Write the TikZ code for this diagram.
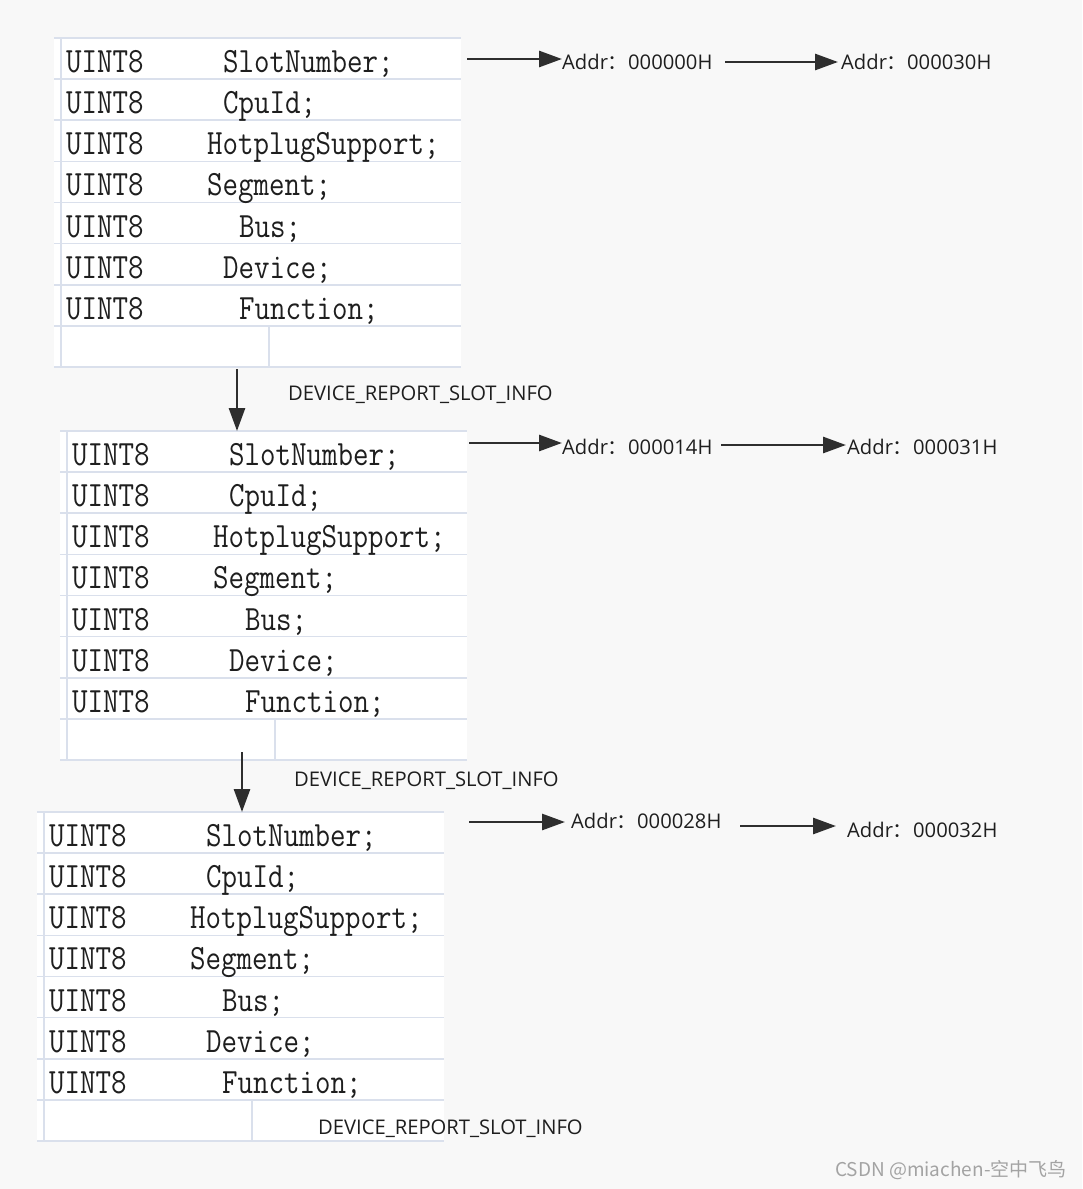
\documentclass[tikz,border=0pt]{standalone}
\usepackage{fontspec}
\usepackage{graphicx}
\usetikzlibrary{arrows.meta}
\setmainfont{Open Sans}
\newfontfamily\cjk{Noto Sans CJK SC}
\definecolor{bg}{HTML}{F8F8F8}
\definecolor{gridc}{HTML}{DAE0EC}
\definecolor{ink}{HTML}{1E1E1E}
\definecolor{arrc}{HTML}{2E2E2E}
\definecolor{wm}{HTML}{A3A3A3}
\tikzset{
  gridline/.style={draw=gridc, line width=1.6pt},
  cell/.style={anchor=base west, inner sep=0pt, text=ink, font=\fontsize{30.1}{30}\selectfont\ttfamily},
  lbl/.style={anchor=west, inner sep=0pt, text=ink, font=\fontsize{20.2}{22}\selectfont},
  arr/.style={draw=arrc, line width=2.8pt, -{Triangle[length=23pt,width=16pt]}},
}
\newcommand{\cellt}[1]{\scalebox{1}[1.18]{#1}}
\newcommand{\slottable}[3]{%
\begin{scope}[shift={(#2,#3)}]
  \fill[white] (54,37) rectangle (461,368);
  \foreach \k in {0,...,8} \draw[gridline] (54,{38+41.125*\k}) -- (461,{38+41.125*\k});
  \draw[gridline] (61,37) -- (61,368);
  \draw[gridline] (269,{38+41.125*7}) -- (269,368);
  \foreach \k/\nm/\xx in {1/SlotNumber;/223,2/CpuId;/223,3/HotplugSupport;/207,4/Segment;/207,5/Bus;/239,6/Device;/223,7/Function;/239}{
    \node[cell] (#1a\k) at (66,{72.5+41.125*(\k-1)}) {\cellt{UINT8}};
    \node[cell] (#1b\k) at (\xx,{72.5+41.125*(\k-1)}) {\cellt{\nm}};
  }
\end{scope}}
\begin{document}
\begin{tikzpicture}[x=1pt,y=-1pt]
\useasboundingbox (0,0) rectangle (1082,1189);
\fill[bg] (0,0) rectangle (1082,1189);

\slottable{A}{0}{0}
\slottable{B}{6}{393}
\slottable{C}{-17}{774}

% labels
\node[lbl] (L1) at (288,395) {DEVICE\_REPORT\_SLOT\_INFO};
\node[lbl] (L2) at (294,781) {DEVICE\_REPORT\_SLOT\_INFO};
\node[lbl] (L3) at (318,1129) {DEVICE\_REPORT\_SLOT\_INFO};

% address texts
\node[lbl] (A1) at (562,62) {Addr{\cjk ：}000000H};
\node[lbl] (A2) at (841,62) {Addr{\cjk ：}000030H};
\node[lbl] (B1) at (562,447) {Addr{\cjk ：}000014H};
\node[lbl] (B2) at (847,447) {Addr{\cjk ：}000031H};
\node[lbl] (C1) at (571,821) {Addr{\cjk ：}000028H};
\node[lbl] (C2) at (847,830) {Addr{\cjk ：}000032H};

% arrow start points
\coordinate (sA1) at (467,59);
\coordinate (sA2) at (725,62);
\coordinate (sB1) at (469,443);
\coordinate (sB2) at (721,445);
\coordinate (sC1) at (469,822);
\coordinate (sC2) at (740,826);
\coordinate (v1s) at (237,369);
\coordinate (v1e) at (237,431);
\coordinate (v2s) at (242,752);
\coordinate (v2e) at (242,812);

\draw[arr] (sA1) -- (sA1 -| A1.west);
\draw[arr] (sA2) -- ([xshift=-3pt]sA2 -| A2.west);
\draw[arr] (sB1) -- (sB1 -| B1.west);
\draw[arr] (sB2) -- ([xshift=-1pt]sB2 -| B2.west);
\draw[arr] (sC1) -- ([xshift=-6pt]sC1 -| C1.west);
\draw[arr] (sC2) -- ([xshift=-11pt]sC2 -| C2.west);
\draw[arr] (v1s) -- (v1e);
\draw[arr] (v2s) -- (v2e);

% watermark
\node[anchor=west, inner sep=0pt, text=wm, font=\cjk\fontsize{19}{20}\selectfont] (wm) at (835,1170) {CSDN @miachen-空中飞鸟};
\end{tikzpicture}
\end{document}
